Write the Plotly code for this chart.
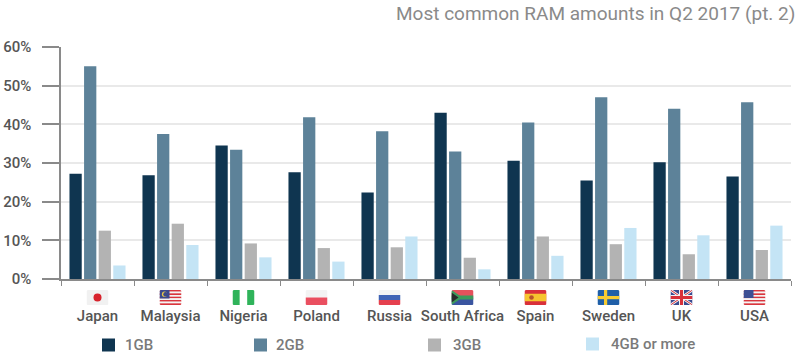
import base64
import plotly.graph_objects as go

countries = ["Japan", "Malaysia", "Nigeria", "Poland", "Russia", "South Africa", "Spain", "Sweden", "UK", "USA"]
series_names = ["1GB", "2GB", "3GB", "4GB or more"]
gb1 = [27.2, 26.8, 34.5, 27.6, 22.4, 43.0, 30.6, 25.5, 30.2, 26.5]
gb2 = [55.0, 37.5, 33.4, 41.8, 38.2, 33.0, 40.5, 47.0, 44.0, 45.7]
gb3 = [12.5, 14.3, 9.2, 8.0, 8.2, 5.5, 11.0, 9.0, 6.4, 7.5]
gb4 = [3.5, 8.8, 5.6, 4.5, 11.0, 2.5, 6.0, 13.2, 11.3, 13.8]
colors = ["#0f3550", "#5d8299", "#b3b3b3", "#c4e4f5"]
y_ticks = [0, 10, 20, 30, 40, 50, 60]
title_text = "Most common RAM amounts in Q2 2017 (pt. 2)"
FONT = "Roboto, Lato, sans-serif"

W, H = 800, 364
L, R, T, B = 61, 9, 47, 85
PW, PH = W - L - R, H - T - B


def px(x):
    return (x - L) / PW


def py(y):
    return (H - B - y) / PH


def stripes_h(cols):
    n = len(cols)
    return "".join(f'<rect y="{i*15/n}" width="22" height="{15/n}" fill="{c}"/>' for i, c in enumerate(cols))


us_stripes = "".join(
    f'<rect y="{i*15/9}" width="22" height="{15/9}" fill="{"#d9363e" if i % 2 == 0 else "#f4f4f4"}"/>' for i in range(9)
)
flags = {
    "Japan": '<rect width="22" height="15" fill="#f1f1f1"/><circle cx="11" cy="7.5" r="4" fill="#d7232c"/>',
    "Malaysia": us_stripes + '<rect width="10" height="8.5" fill="#3b4a8c"/><circle cx="5" cy="4.2" r="2.6" fill="#e8c84a"/><circle cx="6" cy="4.2" r="2.2" fill="#3b4a8c"/>',
    "Nigeria": '<rect width="7.3" height="15" fill="#2fb35a"/><rect x="7.3" width="7.4" height="15" fill="#ffffff"/><rect x="14.7" width="7.3" height="15" fill="#2fb35a"/>',
    "Poland": '<rect width="22" height="7.5" fill="#f3f3f3"/><rect y="7.5" width="22" height="7.5" fill="#ea4f60"/>',
    "Russia": stripes_h(["#f3f3f3", "#3f63b5", "#e5404e"]),
    "South Africa": '<rect width="22" height="7.5" fill="#e5515c"/><rect y="7.5" width="22" height="7.5" fill="#3a55a0"/><rect y="5.5" width="22" height="4" fill="#3d9a5c"/><polygon points="0,0 11,7.5 0,15" fill="#3d9a5c"/><polygon points="0,2.5 7,7.5 0,12.5" fill="#2b2b2b"/>',
    "Spain": '<rect width="22" height="15" fill="#d9303a"/><rect y="3.75" width="22" height="7.5" fill="#f6c52f"/><circle cx="7" cy="7.5" r="2.3" fill="#b8552b"/>',
    "Sweden": '<rect width="22" height="15" fill="#1f5fa8"/><rect x="6.5" width="3.2" height="15" fill="#f6cb32"/><rect y="6" width="22" height="3.2" fill="#f6cb32"/>',
    "UK": '<rect width="22" height="15" fill="#3a4a8f"/><path d="M0,0 L22,15 M22,0 L0,15" stroke="#f3f3f3" stroke-width="2.6"/><path d="M0,0 L22,15 M22,0 L0,15" stroke="#d9303a" stroke-width="1"/><rect x="8.5" width="5" height="15" fill="#f3f3f3"/><rect y="5" width="22" height="5" fill="#f3f3f3"/><rect x="9.5" width="3" height="15" fill="#d9303a"/><rect y="6" width="22" height="3" fill="#d9303a"/>',
    "USA": us_stripes + '<rect width="10" height="8" fill="#3d4f94"/>',
}


def flag_uri(body):
    svg = f'<svg xmlns="http://www.w3.org/2000/svg" width="22" height="15" viewBox="0 0 22 15"><clipPath id="c"><rect width="22" height="15" rx="1.5"/></clipPath><g clip-path="url(#c)">{body}</g></svg>'
    return "data:image/svg+xml;base64," + base64.b64encode(svg.encode()).decode()


fig = go.Figure()
for name, vals, col in zip(series_names, [gb1, gb2, gb3, gb4], colors):
    fig.add_trace(go.Bar(name=name, x=countries, y=vals, marker=dict(color=col, line_width=0)))

images = [
    dict(source=flag_uri(flags[c]), xref="paper", yref="paper", x=px(L + (i + 0.5) * PW / 10), y=py(290),
         sizex=22 / PW, sizey=15 / PH, xanchor="center", yanchor="top", sizing="stretch", layer="above")
    for i, c in enumerate(countries)
]

legend_sq = [102, 254, 428, 586]
legend_txt = [123, 274, 451, 609]
legend_y = [345, 345, 345, 344]
shapes = []
annotations = [
    dict(text=title_text, xref="paper", yref="paper", x=px(797), y=py(13), xanchor="right", yanchor="middle",
         showarrow=False, font=dict(family=FONT, size=19, color="#8a8a8a")),
]
for name, col, sx, tx, ly in zip(series_names, colors, legend_sq, legend_txt, legend_y):
    shapes.append(dict(type="rect", xref="paper", yref="paper", x0=px(sx), x1=px(sx + 13), y0=py(ly - 6.5), y1=py(ly + 6.5),
                       fillcolor=col, line_width=0))
    annotations.append(dict(text=name, xref="paper", yref="paper", x=px(tx), y=py(ly), xanchor="left", yanchor="middle",
                            showarrow=False, font=dict(family=FONT, size=15, weight=500, color="#7a7a7a")))

fig.update_layout(
    width=W, height=H, margin=dict(l=L, r=R, t=T, b=B, autoexpand=False), paper_bgcolor="white", plot_bgcolor="white",
    barmode="group", bargap=0.2, bargroupgap=0.16, showlegend=False,
    images=images, shapes=shapes, annotations=annotations,
    font=dict(family=FONT, color="#555555"),
)
fig.update_xaxes(type="category", tickson="boundaries", ticks="outside", ticklen=5, tickwidth=1.2, tickcolor="#8a8a8a",
                 showline=True, linecolor="#8a8a8a", linewidth=1.5, showgrid=False, automargin=False,
                 tickfont=dict(family=FONT, size=15, weight=500, color="#555555"), ticklabelstandoff=22, tickangle=0)
fig.update_yaxes(range=[0, 60], tickvals=y_ticks, ticktext=[f"{v}%" for v in y_ticks], ticks="outside", ticklen=17,
                 tickwidth=1.5, tickcolor="#8a8a8a", showline=True, linecolor="#8a8a8a", linewidth=1.5, automargin=False,
                 showgrid=True, gridcolor="#e9e9e9", gridwidth=1.5, zeroline=False, ticklabelstandoff=8,
                 tickfont=dict(family=FONT, size=15, weight=500, color="#555555"))
fig.write_html("out.html", config={"displayModeBar": False},
               post_script="document.body.style.margin='0';document.documentElement.style.overflow='hidden';")
